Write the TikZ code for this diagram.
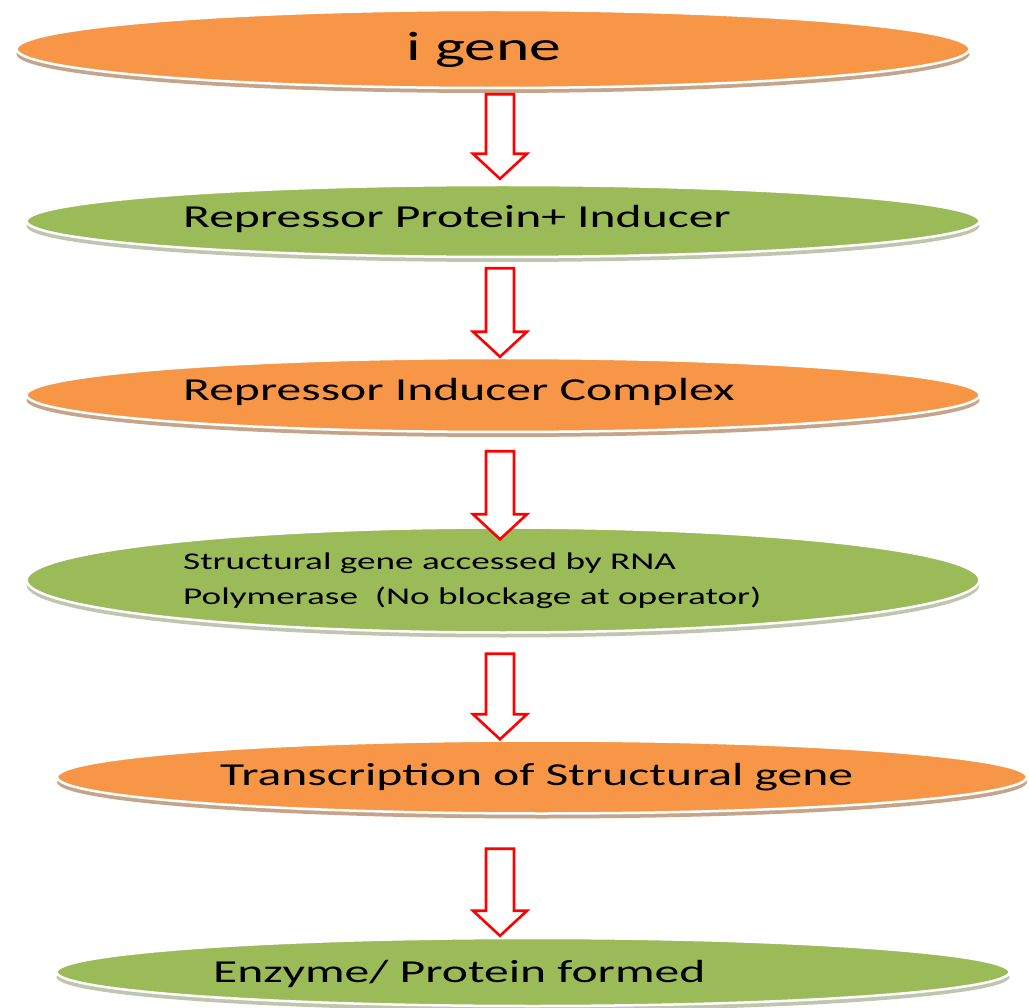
\documentclass[tikz,border=0pt]{standalone}
\usepackage{fontspec}
\setmainfont[FakeStretch=1.55]{Carlito}
\usetikzlibrary{shapes.geometric,shadows,calc}
\definecolor{orangebox}{HTML}{F79646}
\definecolor{greenbox}{HTML}{9BBB59}

\begin{document}
\begin{tikzpicture}[x=1pt,y=-1pt]
\tikzset{oval/.style={ellipse,draw=white,line width=2.5pt,inner sep=0pt},
	orangeoval/.style={oval,fill=orangebox,drop shadow={shadow xshift=0pt,shadow yshift=-5pt,fill=orangebox!60!black,opacity=0.55}},
	greenoval/.style={oval,fill=greenbox,drop shadow={shadow xshift=0pt,shadow yshift=-5pt,fill=greenbox!40!gray,opacity=0.55}},
	lbl/.style={anchor=base west,inner sep=0pt,font=\fontsize{32}{35}\selectfont},
	blockarrow/.style={draw=red,line width=2.6pt,fill=white,line join=miter,
		to path={let \p1=(\tikztostart), \p2=(\tikztotarget) in
			(\x1-14pt,\y1) -- (\x1+14pt,\y1) -- (\x1+14pt,\y2+25pt) -- (\x1+27pt,\y2+25pt)
			-- (\x2,\y2) -- (\x1-27pt,\y2+25pt) -- (\x1-14pt,\y2+25pt) -- cycle}}}
\useasboundingbox (0,0) rectangle (1029,1008);
\coordinate (mid) at (500,0);

\node[orangeoval,minimum width=953pt,minimum height=78pt] (e1) at (493,49) {};
\node[greenoval,minimum width=953pt,minimum height=72pt] (e2) at (503,221) {};
\node[orangeoval,minimum width=953pt,minimum height=74pt] (e3) at (503,395) {};
\node[greenoval,minimum width=953pt,minimum height=105pt] (e4) at (503,580) {};
\node[orangeoval,minimum width=970pt,minimum height=73pt] (e5) at (542,777) {};
\node[greenoval,minimum width=953pt,minimum height=68pt] (e6) at (533,972) {};

\node[lbl,font=\fontsize{41}{45}\selectfont] (t1) at (406,61) {i gene};
\node[lbl] (t2) at (183,228) {Repressor Protein+ Inducer};
\node[lbl] (t3) at (183,401) {Repressor Inducer Complex};
\node[lbl,anchor=west,align=left,font=\fontsize{24}{35}\selectfont] (t4) at (183,581) {Structural gene accessed by RNA\\Polymerase \ (No blockage at operator)};
\node[lbl] (t5) at (220,785) {Transcription of Structural gene};
\node[lbl] (t6) at (213,982) {Enzyme/ Protein formed};

\draw[blockarrow] ($(e1.south -| mid)+(0,5)$) to ($(e2.north -| mid)+(0,-5)$);
\draw[blockarrow] ($(e2.south -| mid)+(0,10)$) to (e3.north -| mid);
\draw[blockarrow] ($(e3.south -| mid)+(0,18)$) to ($(e4.north -| mid)+(0,13)$);
\draw[blockarrow] ($(e4.south -| mid)+(0,20)$) to (e5.north -| mid);
\draw[blockarrow] ($(e5.south -| mid)+(0,34)$) to ($(e6.north -| mid)+(0,-1)$);
\end{tikzpicture}
\end{document}
